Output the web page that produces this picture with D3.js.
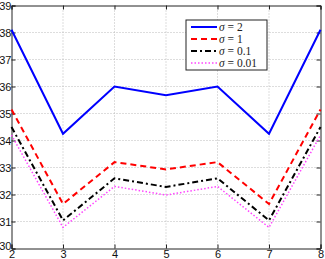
<!DOCTYPE html>
<html lang="en">
<head>
  <meta charset="UTF-8" />
  <title>sigma chart</title>
  <style>
    body { margin: 0; overflow: hidden; background: #fff; font-family: "Liberation Sans", Helvetica, sans-serif; }
    svg { position: absolute; top: 0; left: 0; }
    .grid line { stroke: #bbb; stroke-width: 1px; stroke-dasharray: 1,2; }
    .tick text { font-size: 11px; fill: #111; }
    .leg text { font-family: "Liberation Serif", "DejaVu Serif", serif; font-size: 11.5px; fill: #222; }
  </style>
</head>
<body>
<svg id="chart"></svg>
<script src="https://d3js.org/d3.v7.min.js"></script>
<script>
  const xVals = [2, 3, 4, 5, 6, 7, 8];
  const xTicks = [2, 3, 4, 5, 6, 7, 8];
  const yTicks = [30, 31, 32, 33, 34, 35, 36, 37, 38, 39];

  const sigma2 = [38.1, 34.25, 36.0, 35.68, 36.0, 34.25, 38.1];
  const sigma1 = [35.15, 31.65, 33.2, 32.93, 33.2, 31.65, 35.15];
  const sigma01 = [34.5, 31.04, 32.6, 32.28, 32.6, 31.04, 34.5];
  const sigma001 = [34.2, 30.78, 32.3, 31.98, 32.3, 30.78, 34.2];

  const seriesValues = ["2", "1", "0.1", "0.01"];
  const seriesColors = ["#0000ff", "#ff0000", "#000000", "#ff44ff"];
  const seriesDash = [null, "6,4", "6,3,2,3", "1.5,2"];
  const seriesWidth = [2, 2, 2, 1.5];

  const width = 325, height = 259;
  const svg = d3.select("#chart").attr("width", width).attr("height", height);

  const x = d3.scaleLinear().domain([2, 8]).range([11.5, 320.5]);
  const y = d3.scaleLinear().domain([30, 39]).range([248.5, 5.5]);

  // grid
  const grid = svg.append("g").attr("class", "grid");
  grid.selectAll(".gx").data(xTicks.slice(1, -1)).enter().append("line")
    .attr("x1", d => x(d)).attr("x2", d => x(d))
    .attr("y1", y(30)).attr("y2", y(39));
  grid.selectAll(".gy").data(yTicks.slice(1, -1)).enter().append("line")
    .attr("x1", x(2)).attr("x2", x(8))
    .attr("y1", d => y(d)).attr("y2", d => y(d));

  // axes, ticks inward
  const xAxis = svg.append("g").attr("transform", `translate(0,${y(30)})`)
    .call(d3.axisBottom(x).tickValues(xTicks).tickSize(-4).tickPadding(3).tickFormat(d3.format("d")));
  const yAxis = svg.append("g").attr("transform", `translate(${x(2)},0)`)
    .call(d3.axisLeft(y).tickValues(yTicks).tickSize(-4).tickPadding(0).tickFormat(d3.format("d")));
  svg.append("g").attr("transform", `translate(0,${y(39)})`)
    .call(d3.axisTop(x).tickValues(xTicks).tickSize(-4).tickFormat(""));
  svg.append("g").attr("transform", `translate(${x(8)},0)`)
    .call(d3.axisRight(y).tickValues(yTicks).tickSize(-4).tickFormat(""));
  svg.selectAll(".domain").attr("stroke", "#222");
  svg.selectAll(".tick line").attr("stroke", "#222");
  xAxis.selectAll("text").attr("dy", "0.6em");
  // the bottom-left labels touch in the original; nudge "30" up a hair
  yAxis.selectAll(".tick").filter(d => d === 30).select("text").attr("dy", "0.1em");

  // lines
  const allSeries = [sigma2, sigma1, sigma01, sigma001];
  const line = d3.line().x((d, i) => x(xVals[i])).y(d => y(d));
  svg.selectAll(".series").data(allSeries).enter().append("path")
    .attr("fill", "none")
    .attr("stroke", (d, i) => seriesColors[i])
    .attr("stroke-width", (d, i) => seriesWidth[i])
    .attr("stroke-dasharray", (d, i) => seriesDash[i])
    .attr("d", line);

  // legend
  const leg = svg.append("g").attr("class", "leg").attr("transform", "translate(186,20)");
  leg.append("rect").attr("width", 81).attr("height", 50)
    .attr("fill", "#fff").attr("stroke", "#222").attr("stroke-width", 1);
  const rows = leg.selectAll(".row").data(seriesValues).enter().append("g")
    .attr("transform", (d, i) => `translate(0,${7 + i * 12})`);
  rows.append("line").attr("x1", 5).attr("x2", 31)
    .attr("stroke", (d, i) => seriesColors[i])
    .attr("stroke-width", (d, i) => seriesWidth[i])
    .attr("stroke-dasharray", (d, i) => seriesDash[i]);
  const lt = rows.append("text").attr("x", 33).attr("dy", "0.35em");
  lt.append("tspan").attr("font-style", "italic").text("\u03c3");
  lt.append("tspan").text(d => " = " + d);
</script>
</body>
</html>
